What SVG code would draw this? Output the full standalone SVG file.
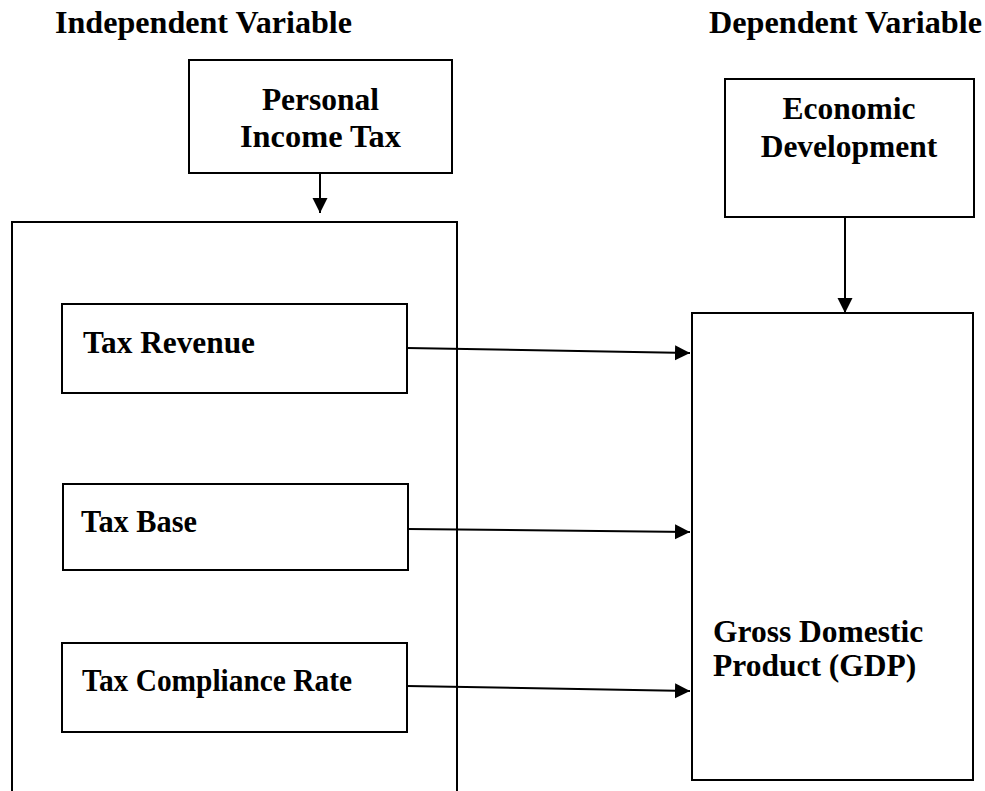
<svg xmlns="http://www.w3.org/2000/svg" width="985" height="791" viewBox="0 0 985 791">
<style>
  .box { fill: #fff; stroke: #000; stroke-width: 2; }
  .t { font-family: "Liberation Serif", "Times New Roman", serif; font-weight: bold; fill: #000; }
  .big { font-size: 31.5px; }
  .lab { font-size: 31px; }
  .conn { stroke: #000; stroke-width: 2; fill: none; marker-end: url(#ah); }
</style>
<defs>
  <marker id="ah" markerUnits="userSpaceOnUse" markerWidth="16" markerHeight="16" refX="15" refY="8" orient="auto">
    <path d="M0,0.5 L15,8 L0,15.5 z" fill="#000"/>
  </marker>
</defs>
<rect width="985" height="791" fill="#fff"/>

<g id="title-independent"><text class="t big" x="55" y="33" textLength="297" lengthAdjust="spacingAndGlyphs">Independent Variable</text></g>
<g id="title-dependent"><text class="t big" x="709" y="33" textLength="273" lengthAdjust="spacingAndGlyphs">Dependent Variable</text></g>

<g id="independent-group"><rect class="box" x="12" y="222" width="445" height="590"/></g>

<g id="personal-income-tax">
  <rect class="box" x="189" y="60" width="263" height="113"/>
  <text class="t big" x="320.5" y="110" text-anchor="middle">Personal</text>
  <text class="t big" x="240" y="147" textLength="161" lengthAdjust="spacingAndGlyphs">Income Tax</text>
</g>

<g id="economic-development">
  <rect class="box" x="725" y="79" width="249" height="138"/>
  <text class="t big" x="849" y="119" text-anchor="middle">Economic</text>
  <text class="t big" x="849" y="157" text-anchor="middle">Development</text>
</g>

<g id="gdp">
  <rect class="box" x="692" y="313" width="281" height="467"/>
  <text class="t big" x="713" y="642">Gross Domestic</text>
  <text class="t big" x="713" y="676">Product (GDP)</text>
</g>

<g id="tax-revenue">
  <rect class="box" x="62" y="304" width="345" height="89"/>
  <text class="t lab" x="83" y="353" textLength="172" lengthAdjust="spacingAndGlyphs">Tax Revenue</text>
</g>

<g id="tax-base">
  <rect class="box" x="63" y="484" width="345" height="86"/>
  <text class="t lab" x="81" y="532" textLength="116" lengthAdjust="spacingAndGlyphs">Tax Base</text>
</g>

<g id="tax-compliance-rate">
  <rect class="box" x="62" y="643" width="345" height="89"/>
  <text class="t lab" x="82" y="691" textLength="270" lengthAdjust="spacingAndGlyphs">Tax Compliance Rate</text>
</g>

<g id="connectors">
  <line class="conn" x1="320" y1="173" x2="320" y2="213"/>
  <line class="conn" x1="845" y1="217" x2="845" y2="313"/>
  <line class="conn" x1="407" y1="348" x2="690" y2="353"/>
  <line class="conn" x1="408" y1="529" x2="690" y2="532"/>
  <line class="conn" x1="407" y1="686" x2="690" y2="691"/>
</g>
</svg>
